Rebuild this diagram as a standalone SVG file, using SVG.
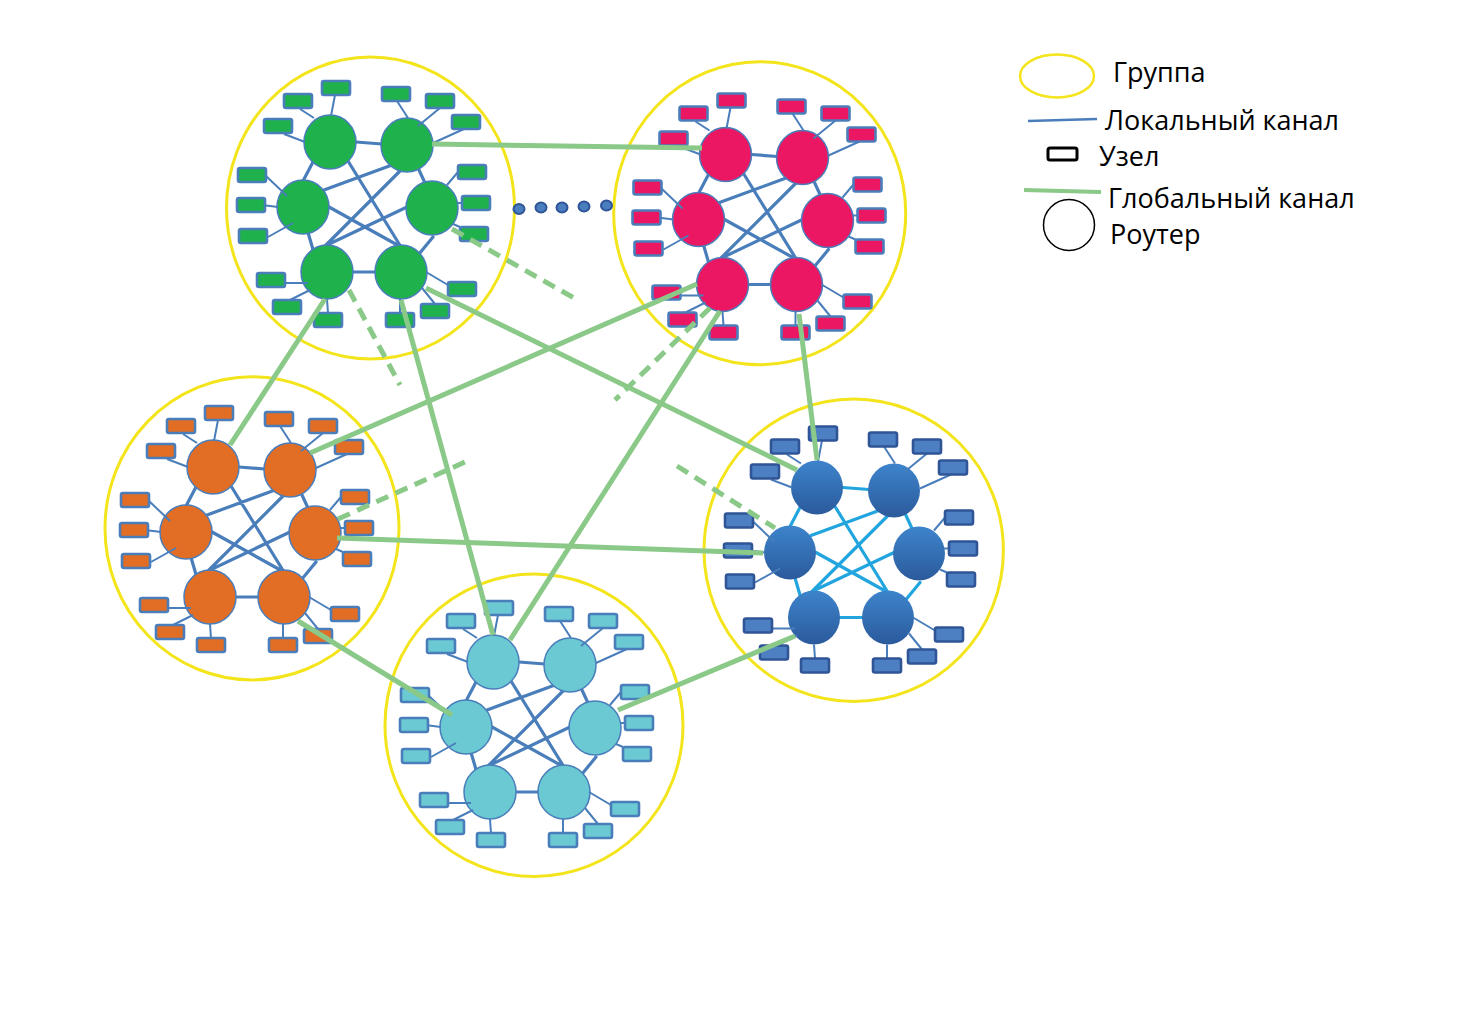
<svg xmlns="http://www.w3.org/2000/svg" width="1479" height="1035" viewBox="0 0 1479 1035">
<defs>
<style>
.grp{fill:none;stroke:#f3e41c;stroke-width:3}
.ll{fill:none;stroke:#4a7ebb;stroke-width:3.2;stroke-linecap:round}
.nl{fill:none;stroke:#4a7ebb;stroke-width:2}
.rt{stroke:#4a7ebb;stroke-width:1.5}
.nd{stroke:#4a7ebb;stroke-width:2.6}
.c-green .rt,.c-green .nd{fill:#1fb14c}
.c-pink .rt,.c-pink .nd{fill:#ec1763}
.c-orange .rt,.c-orange .nd{fill:#e26d25}
.c-cyan .rt,.c-cyan .nd{fill:#6ac9d2}
.c-blue .rt{fill:url(#bg);stroke:none}
.c-blue .nd{fill:#4d7fc3;stroke:#2f5597}
.c-blue .ll{stroke:#22a5de}
.gl{fill:none;stroke:#8ac988;stroke-width:5}
.gd{fill:none;stroke:#8ac988;stroke-width:5;stroke-dasharray:13 8}
.dot{fill:#4a7ebf;stroke:#2f5597;stroke-width:2}
.lt{font-family:"Open Sans","Noto Sans",sans-serif;font-size:27px;fill:#000}
</style>
<linearGradient id="bg" x1="0" y1="0" x2="0" y2="1">
<stop offset="0" stop-color="#3d84cc"/>
<stop offset="1" stop-color="#2b5a9c"/>
</linearGradient>
</defs>
<rect width="1479" height="1035" fill="#fff"/>

<g id="group-green" class="c-green">
<ellipse class="grp" cx="370.5" cy="208" rx="144" ry="151"/>
<g transform="translate(0,0)">
<path class="ll" d="M356,142L382,144M313,162L303,181M348,161L401,247M392,165L324,190M419,170L425,183M401,170L325,246M307,229L314,253M329,207L401,247M407,207L325,246M433,237L419,254M352,272L375,272"/>
<ellipse id="green-r1" class="rt" cx="330" cy="142" rx="26" ry="27"/>
<ellipse id="green-r2" class="rt" cx="407" cy="145" rx="26" ry="27"/>
<ellipse id="green-r3" class="rt" cx="303" cy="207" rx="26" ry="27"/>
<ellipse id="green-r4" class="rt" cx="432" cy="208" rx="26" ry="27"/>
<ellipse id="green-r5" class="rt" cx="327" cy="272" rx="26" ry="27"/>
<ellipse id="green-r6" class="rt" cx="401" cy="272" rx="26" ry="27"/>
<path class="nl" d="M335,95L331,116M300,109L314,118M284,134L305,142M397,101L408,118M440,108L418,126M464,129L433,143M266,176L287,196M262,205L278,207M268,237L293,223M458,172L447,185M462,203L457,203M460,227L453,224M286,283L308,283M290,300L310,290M328,313L327,299M400,313L400,299M435,304L422,288M448,285L426,272"/>
<rect class="nd" x="322" y="81" width="28" height="14" rx="2"/>
<rect class="nd" x="284" y="94" width="28" height="14" rx="2"/>
<rect class="nd" x="264" y="119" width="28" height="14" rx="2"/>
<rect class="nd" x="382" y="87" width="28" height="14" rx="2"/>
<rect class="nd" x="426" y="94" width="28" height="14" rx="2"/>
<rect class="nd" x="452" y="115" width="28" height="14" rx="2"/>
<rect class="nd" x="238" y="168" width="28" height="14" rx="2"/>
<rect class="nd" x="237" y="198" width="28" height="14" rx="2"/>
<rect class="nd" x="239" y="229" width="28" height="14" rx="2"/>
<rect class="nd" x="458" y="165" width="28" height="14" rx="2"/>
<rect class="nd" x="462" y="196" width="28" height="14" rx="2"/>
<rect class="nd" x="460" y="227" width="28" height="14" rx="2"/>
<rect class="nd" x="257" y="273" width="28" height="14" rx="2"/>
<rect class="nd" x="273" y="300" width="28" height="14" rx="2"/>
<rect class="nd" x="314" y="313" width="28" height="14" rx="2"/>
<rect class="nd" x="386" y="313" width="28" height="14" rx="2"/>
<rect class="nd" x="421" y="304" width="28" height="14" rx="2"/>
<rect class="nd" x="448" y="282" width="28" height="14" rx="2"/>
</g>
</g>

<g id="group-pink" class="c-pink">
<ellipse class="grp" cx="759.7" cy="213.3" rx="146" ry="151.5"/>
<g transform="translate(395.5,12.5)">
<path class="ll" d="M356,142L382,144M313,162L303,181M348,161L401,247M392,165L324,190M419,170L425,183M401,170L325,246M307,229L314,253M329,207L401,247M407,207L325,246M433,237L419,254M352,272L375,272"/>
<ellipse id="pink-r1" class="rt" cx="330" cy="142" rx="26" ry="27"/>
<ellipse id="pink-r2" class="rt" cx="407" cy="145" rx="26" ry="27"/>
<ellipse id="pink-r3" class="rt" cx="303" cy="207" rx="26" ry="27"/>
<ellipse id="pink-r4" class="rt" cx="432" cy="208" rx="26" ry="27"/>
<ellipse id="pink-r5" class="rt" cx="327" cy="272" rx="26" ry="27"/>
<ellipse id="pink-r6" class="rt" cx="401" cy="272" rx="26" ry="27"/>
<path class="nl" d="M335,95L331,116M300,109L314,118M284,134L305,142M397,101L408,118M440,108L418,126M464,129L433,143M266,176L287,196M262,205L278,207M268,237L293,223M458,172L447,185M462,203L457,203M460,227L453,224M286,283L308,283M290,300L310,290M328,313L327,299M400,313L400,299M435,304L422,288M448,285L426,272"/>
<rect class="nd" x="322" y="81" width="28" height="14" rx="2"/>
<rect class="nd" x="284" y="94" width="28" height="14" rx="2"/>
<rect class="nd" x="264" y="119" width="28" height="14" rx="2"/>
<rect class="nd" x="382" y="87" width="28" height="14" rx="2"/>
<rect class="nd" x="426" y="94" width="28" height="14" rx="2"/>
<rect class="nd" x="452" y="115" width="28" height="14" rx="2"/>
<rect class="nd" x="238" y="168" width="28" height="14" rx="2"/>
<rect class="nd" x="237" y="198" width="28" height="14" rx="2"/>
<rect class="nd" x="239" y="229" width="28" height="14" rx="2"/>
<rect class="nd" x="458" y="165" width="28" height="14" rx="2"/>
<rect class="nd" x="462" y="196" width="28" height="14" rx="2"/>
<rect class="nd" x="460" y="227" width="28" height="14" rx="2"/>
<rect class="nd" x="257" y="273" width="28" height="14" rx="2"/>
<rect class="nd" x="273" y="300" width="28" height="14" rx="2"/>
<rect class="nd" x="314" y="313" width="28" height="14" rx="2"/>
<rect class="nd" x="386" y="313" width="28" height="14" rx="2"/>
<rect class="nd" x="421" y="304" width="28" height="14" rx="2"/>
<rect class="nd" x="448" y="282" width="28" height="14" rx="2"/>
</g>
</g>

<g id="group-orange" class="c-orange">
<ellipse class="grp" cx="252" cy="528.3" rx="147" ry="151.6"/>
<g transform="translate(-117,325)">
<path class="ll" d="M356,142L382,144M313,162L303,181M348,161L401,247M392,165L324,190M419,170L425,183M401,170L325,246M307,229L314,253M329,207L401,247M407,207L325,246M433,237L419,254M352,272L375,272"/>
<ellipse id="orange-r1" class="rt" cx="330" cy="142" rx="26" ry="27"/>
<ellipse id="orange-r2" class="rt" cx="407" cy="145" rx="26" ry="27"/>
<ellipse id="orange-r3" class="rt" cx="303" cy="207" rx="26" ry="27"/>
<ellipse id="orange-r4" class="rt" cx="432" cy="208" rx="26" ry="27"/>
<ellipse id="orange-r5" class="rt" cx="327" cy="272" rx="26" ry="27"/>
<ellipse id="orange-r6" class="rt" cx="401" cy="272" rx="26" ry="27"/>
<path class="nl" d="M335,95L331,116M300,109L314,118M284,134L305,142M397,101L408,118M440,108L418,126M464,129L433,143M266,176L287,196M262,205L278,207M268,237L293,223M458,172L447,185M462,203L457,203M460,227L453,224M286,283L308,283M290,300L310,290M328,313L327,299M400,313L400,299M435,304L422,288M448,285L426,272"/>
<rect class="nd" x="322" y="81" width="28" height="14" rx="2"/>
<rect class="nd" x="284" y="94" width="28" height="14" rx="2"/>
<rect class="nd" x="264" y="119" width="28" height="14" rx="2"/>
<rect class="nd" x="382" y="87" width="28" height="14" rx="2"/>
<rect class="nd" x="426" y="94" width="28" height="14" rx="2"/>
<rect class="nd" x="452" y="115" width="28" height="14" rx="2"/>
<rect class="nd" x="238" y="168" width="28" height="14" rx="2"/>
<rect class="nd" x="237" y="198" width="28" height="14" rx="2"/>
<rect class="nd" x="239" y="229" width="28" height="14" rx="2"/>
<rect class="nd" x="458" y="165" width="28" height="14" rx="2"/>
<rect class="nd" x="462" y="196" width="28" height="14" rx="2"/>
<rect class="nd" x="460" y="227" width="28" height="14" rx="2"/>
<rect class="nd" x="257" y="273" width="28" height="14" rx="2"/>
<rect class="nd" x="273" y="300" width="28" height="14" rx="2"/>
<rect class="nd" x="314" y="313" width="28" height="14" rx="2"/>
<rect class="nd" x="386" y="313" width="28" height="14" rx="2"/>
<rect class="nd" x="421" y="304" width="28" height="14" rx="2"/>
<rect class="nd" x="448" y="282" width="28" height="14" rx="2"/>
</g>
</g>

<g id="group-cyan" class="c-cyan">
<ellipse class="grp" cx="534" cy="725.3" rx="149" ry="151.3"/>
<g transform="translate(163,520)">
<path class="ll" d="M356,142L382,144M313,162L303,181M348,161L401,247M392,165L324,190M419,170L425,183M401,170L325,246M307,229L314,253M329,207L401,247M407,207L325,246M433,237L419,254M352,272L375,272"/>
<ellipse id="cyan-r1" class="rt" cx="330" cy="142" rx="26" ry="27"/>
<ellipse id="cyan-r2" class="rt" cx="407" cy="145" rx="26" ry="27"/>
<ellipse id="cyan-r3" class="rt" cx="303" cy="207" rx="26" ry="27"/>
<ellipse id="cyan-r4" class="rt" cx="432" cy="208" rx="26" ry="27"/>
<ellipse id="cyan-r5" class="rt" cx="327" cy="272" rx="26" ry="27"/>
<ellipse id="cyan-r6" class="rt" cx="401" cy="272" rx="26" ry="27"/>
<path class="nl" d="M335,95L331,116M300,109L314,118M284,134L305,142M397,101L408,118M440,108L418,126M464,129L433,143M266,176L287,196M262,205L278,207M268,237L293,223M458,172L447,185M462,203L457,203M460,227L453,224M286,283L308,283M290,300L310,290M328,313L327,299M400,313L400,299M435,304L422,288M448,285L426,272"/>
<rect class="nd" x="322" y="81" width="28" height="14" rx="2"/>
<rect class="nd" x="284" y="94" width="28" height="14" rx="2"/>
<rect class="nd" x="264" y="119" width="28" height="14" rx="2"/>
<rect class="nd" x="382" y="87" width="28" height="14" rx="2"/>
<rect class="nd" x="426" y="94" width="28" height="14" rx="2"/>
<rect class="nd" x="452" y="115" width="28" height="14" rx="2"/>
<rect class="nd" x="238" y="168" width="28" height="14" rx="2"/>
<rect class="nd" x="237" y="198" width="28" height="14" rx="2"/>
<rect class="nd" x="239" y="229" width="28" height="14" rx="2"/>
<rect class="nd" x="458" y="165" width="28" height="14" rx="2"/>
<rect class="nd" x="462" y="196" width="28" height="14" rx="2"/>
<rect class="nd" x="460" y="227" width="28" height="14" rx="2"/>
<rect class="nd" x="257" y="273" width="28" height="14" rx="2"/>
<rect class="nd" x="273" y="300" width="28" height="14" rx="2"/>
<rect class="nd" x="314" y="313" width="28" height="14" rx="2"/>
<rect class="nd" x="386" y="313" width="28" height="14" rx="2"/>
<rect class="nd" x="421" y="304" width="28" height="14" rx="2"/>
<rect class="nd" x="448" y="282" width="28" height="14" rx="2"/>
</g>
</g>

<g id="group-blue" class="c-blue">
<ellipse class="grp" cx="853.7" cy="550.3" rx="149.7" ry="151.3"/>
<g transform="translate(487,345.5)">
<path class="ll" d="M356,142L382,144M313,162L303,181M348,161L401,247M392,165L324,190M419,170L425,183M401,170L325,246M307,229L314,253M329,207L401,247M407,207L325,246M433,237L419,254M352,272L375,272"/>
<ellipse id="blue-r1" class="rt" cx="330" cy="142" rx="26" ry="27"/>
<ellipse id="blue-r2" class="rt" cx="407" cy="145" rx="26" ry="27"/>
<ellipse id="blue-r3" class="rt" cx="303" cy="207" rx="26" ry="27"/>
<ellipse id="blue-r4" class="rt" cx="432" cy="208" rx="26" ry="27"/>
<ellipse id="blue-r5" class="rt" cx="327" cy="272" rx="26" ry="27"/>
<ellipse id="blue-r6" class="rt" cx="401" cy="272" rx="26" ry="27"/>
<path class="nl" d="M335,95L331,116M300,109L314,118M284,134L305,142M397,101L408,118M440,108L418,126M464,129L433,143M266,176L287,196M262,205L278,207M268,237L293,223M458,172L447,185M462,203L457,203M460,227L453,224M286,283L308,283M290,300L310,290M328,313L327,299M400,313L400,299M435,304L422,288M448,285L426,272"/>
<rect class="nd" x="322" y="81" width="28" height="14" rx="2"/>
<rect class="nd" x="284" y="94" width="28" height="14" rx="2"/>
<rect class="nd" x="264" y="119" width="28" height="14" rx="2"/>
<rect class="nd" x="382" y="87" width="28" height="14" rx="2"/>
<rect class="nd" x="426" y="94" width="28" height="14" rx="2"/>
<rect class="nd" x="452" y="115" width="28" height="14" rx="2"/>
<rect class="nd" x="238" y="168" width="28" height="14" rx="2"/>
<rect class="nd" x="237" y="198" width="28" height="14" rx="2"/>
<rect class="nd" x="239" y="229" width="28" height="14" rx="2"/>
<rect class="nd" x="458" y="165" width="28" height="14" rx="2"/>
<rect class="nd" x="462" y="196" width="28" height="14" rx="2"/>
<rect class="nd" x="460" y="227" width="28" height="14" rx="2"/>
<rect class="nd" x="257" y="273" width="28" height="14" rx="2"/>
<rect class="nd" x="273" y="300" width="28" height="14" rx="2"/>
<rect class="nd" x="314" y="313" width="28" height="14" rx="2"/>
<rect class="nd" x="386" y="313" width="28" height="14" rx="2"/>
<rect class="nd" x="421" y="304" width="28" height="14" rx="2"/>
<rect class="nd" x="448" y="282" width="28" height="14" rx="2"/>
</g>
</g>

<g id="connectors">
<line class="gl" x1="432" y1="144" x2="702" y2="148"/>
<line class="gl" x1="325" y1="299" x2="230" y2="445"/>
<line class="gl" x1="401" y1="300" x2="493" y2="635"/>
<line class="gl" x1="426" y1="288" x2="797" y2="470"/>
<line class="gl" x1="697" y1="284" x2="310" y2="453"/>
<line class="gl" x1="720" y1="311" x2="510" y2="640"/>
<line class="gl" x1="799" y1="314" x2="817" y2="460"/>
<line class="gl" x1="337" y1="538" x2="763" y2="553"/>
<line class="gl" x1="298" y1="621" x2="452" y2="715"/>
<line class="gl" x1="795" y1="636" x2="618" y2="710"/>
<line class="gd" x1="452" y1="229" x2="574" y2="298"/>
<line class="gd" x1="349" y1="290" x2="400" y2="385"/>
<line class="gd" x1="710" y1="308" x2="615" y2="400"/>
<line class="gd" x1="338" y1="519" x2="465" y2="462"/>
<line class="gd" x1="677" y1="466" x2="775" y2="528"/>
</g>

<g id="ellipsis">
<ellipse class="dot" cx="519" cy="209" rx="5.5" ry="5"/>
<ellipse class="dot" cx="541" cy="207.5" rx="5.5" ry="5"/>
<ellipse class="dot" cx="562" cy="207.5" rx="5.5" ry="5"/>
<ellipse class="dot" cx="584" cy="206.5" rx="5.5" ry="5"/>
<ellipse class="dot" cx="606.5" cy="205.5" rx="5.5" ry="5"/>
</g>

<g id="legend">
<ellipse cx="1057" cy="76" rx="37" ry="21.5" fill="none" stroke="#f3e41c" stroke-width="2.5"/>
<text class="lt" x="1113" y="82">Группа</text>
<line x1="1028" y1="121" x2="1097" y2="119" stroke="#4a7ebb" stroke-width="2.5"/>
<text class="lt" x="1105" y="130">Локальный канал</text>
<rect x="1048" y="148" width="29" height="12" rx="2" fill="none" stroke="#000" stroke-width="3"/>
<text class="lt" x="1099" y="166">Узел</text>
<line x1="1024" y1="190" x2="1101" y2="192" stroke="#8ac988" stroke-width="4"/>
<text class="lt" x="1108" y="208">Глобальный канал</text>
<circle cx="1069" cy="225" r="25.5" fill="none" stroke="#000" stroke-width="1.5"/>
<text class="lt" x="1110" y="244">Роутер</text>
</g>
</svg>
